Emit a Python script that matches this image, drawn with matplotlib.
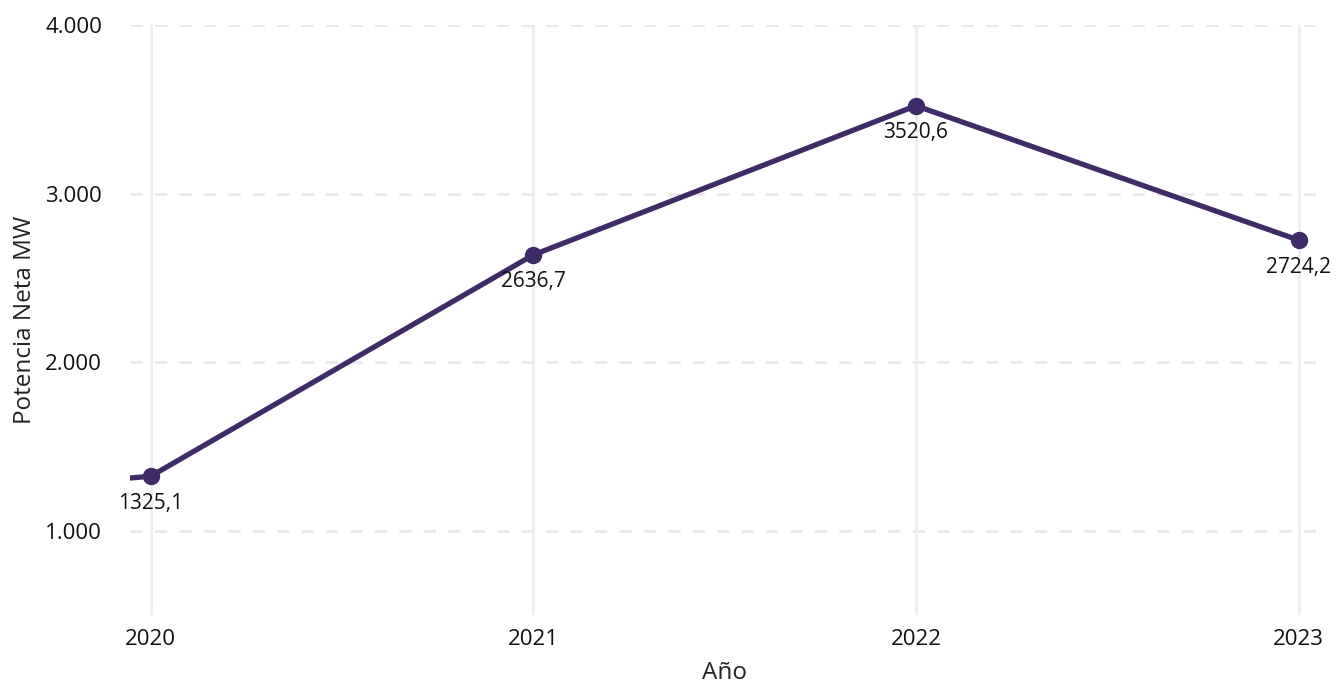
import matplotlib.pyplot as plt
from matplotlib.ticker import FuncFormatter

plt.rcParams['font.family'] = ['Open Sans', 'DejaVu Sans']

# datos
anios = [2019, 2020, 2021, 2022, 2023]
potencia = [1130.0, 1325.1, 2636.7, 3520.6, 2724.2]
etiquetas_anios = [2020, 2021, 2022, 2023]

color_linea = '#3f2b67'

fig = plt.figure(figsize=(13.37, 6.9), dpi=100)
ax = fig.add_axes([0.097, 0.108, 0.890, 0.856])

ax.plot(anios, potencia, color=color_linea, linewidth=3.8, marker='o',
        markersize=11.5, solid_capstyle='butt', clip_on=True)

for a, v in zip(anios[1:], potencia[1:]):
    ax.annotate(f"{v:.1f}".replace('.', ','), (a, v), xytext=(0, -19.5),
                textcoords='offset points', ha='center', va='center',
                fontsize=15, color='#111111')

ax.set_xlim(2019.945, 2023.055)
ax.set_ylim(500, 4000)
ax.set_xticks(etiquetas_anios)
ax.set_xticklabels([str(a) for a in etiquetas_anios])
ax.set_yticks([1000, 2000, 3000, 4000])
ax.yaxis.set_major_formatter(FuncFormatter(lambda v, p: f"{int(v):,}".replace(',', '.')))

ax.grid(axis='x', color='#f0eeee', linewidth=2.2, linestyle='-')
ax.grid(axis='y', color='#ebe9e9', linewidth=2.2, linestyle=(0, (4, 4)))
ax.set_axisbelow(True)
for s in ax.spines.values():
    s.set_visible(False)
ax.tick_params(length=0, labelsize=16, colors='#111111', pad=10)
ax.tick_params(axis='y', pad=20)

ax.set_xlabel('Año', fontsize=17.5, color='#222222', labelpad=8)
ax.set_ylabel('Potencia Neta MW', fontsize=17.5, color='#222222', labelpad=6)

fig.savefig('out.png', dpi=100)
